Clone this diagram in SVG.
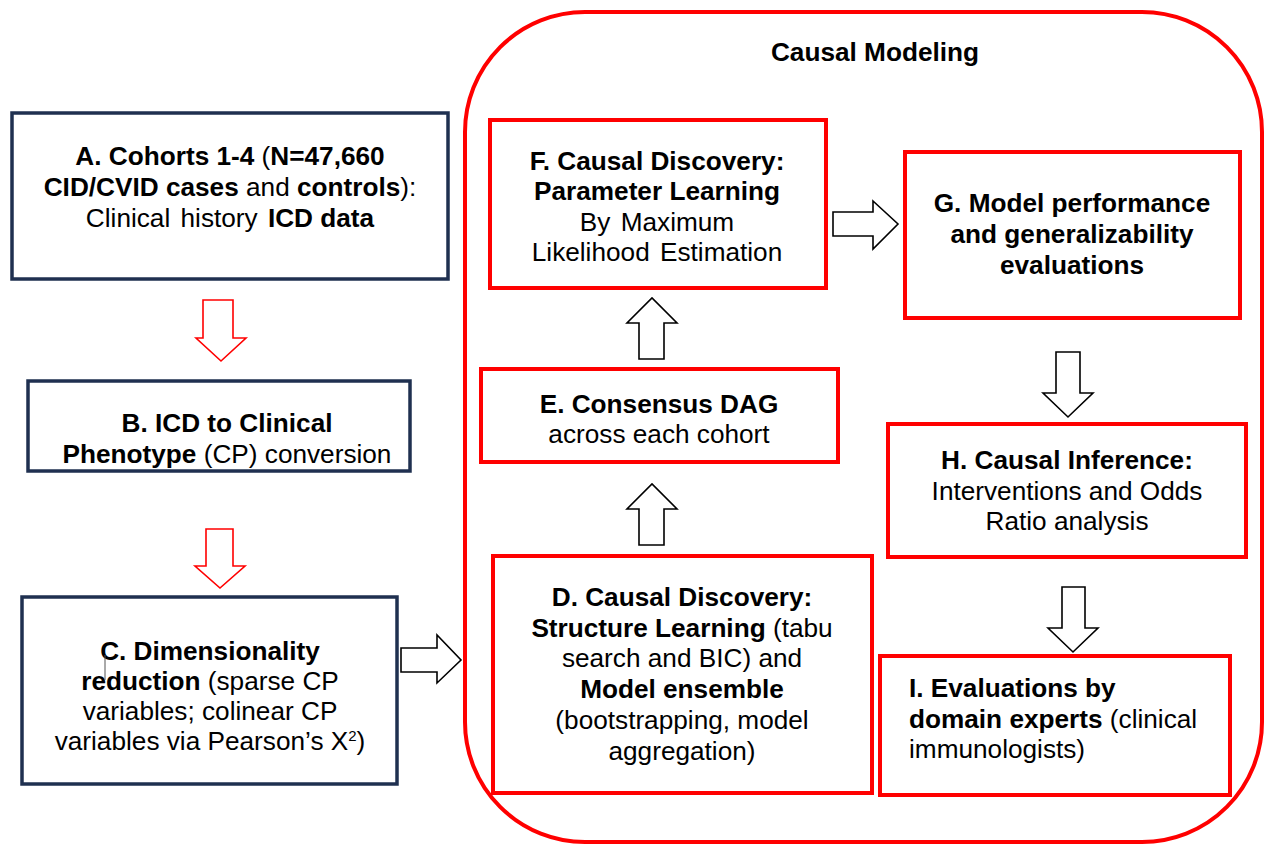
<svg xmlns="http://www.w3.org/2000/svg" width="1266" height="845" viewBox="0 0 1266 845">
<style>
text{font-family:"Liberation Sans",Arial,sans-serif;font-size:26.2px;fill:#000;text-anchor:middle}
.b{font-weight:bold}
.l{text-anchor:start}
.navy{fill:#fff;stroke:#1F3050;stroke-width:3.5}
.red{fill:#fff;stroke:#FF0000;stroke-width:4}
.ha{fill:#fff;stroke:#000;stroke-width:1.6;stroke-linejoin:miter}
.ra{fill:#fff;stroke:#FF0000;stroke-width:1.6}
</style>
<rect width="1266" height="845" fill="#fff"/>
<g id="container">
<rect x="465" y="12" width="797" height="830" rx="120" ry="120" fill="none" stroke="#FF0000" stroke-width="4"/>
<text class="b" x="875" y="61">Causal Modeling</text>
</g>
<g id="nodeA">
<rect class="navy" x="12" y="113" width="436" height="166"/>
<text x="230" y="165"><tspan class="b">A. Cohorts 1-4</tspan> (<tspan class="b">N=47,660</tspan></text>
<text x="230" y="196"><tspan class="b">CID/CVID cases</tspan> and <tspan class="b">controls</tspan>):</text>
<text x="230" y="227" word-spacing="3">Clinical history <tspan class="b" word-spacing="0">ICD data</tspan></text>
</g>
<g id="nodeB">
<rect class="navy" x="28" y="381" width="382" height="90"/>
<text x="227" y="432"><tspan class="b">B. ICD to Clinical</tspan></text>
<text x="227" y="463"><tspan class="b">Phenotype</tspan> (CP) conversion</text>
</g>
<g id="nodeC">
<rect class="navy" x="22" y="597" width="375" height="187"/>
<text x="210" y="660"><tspan class="b">C. Dimensionality</tspan></text>
<text x="210" y="690"><tspan class="b">reduction</tspan> (sparse CP</text>
<text x="210" y="720">variables; colinear CP</text>
<text x="210" y="750">variables via Pearson’s X<tspan font-size="15" dy="-9">2</tspan><tspan dy="9">)</tspan></text>
<path d="M105 655V680" stroke="#555" stroke-width="1" fill="none"/>
</g>
<g id="nodeD">
<rect class="red" x="493" y="556" width="379" height="237"/>
<text x="682" y="606"><tspan class="b">D. Causal Discovery:</tspan></text>
<text x="682" y="637"><tspan class="b">Structure Learning</tspan> (tabu</text>
<text x="682" y="667">search and BIC) and</text>
<text x="682" y="698"><tspan class="b">Model ensemble</tspan></text>
<text x="682" y="729">(bootstrapping, model</text>
<text x="682" y="760">aggregation)</text>
</g>
<g id="nodeE">
<rect class="red" x="481" y="369" width="357" height="93"/>
<text x="659" y="413"><tspan class="b">E. Consensus DAG</tspan></text>
<text x="659" y="443">across each cohort</text>
</g>
<g id="nodeF">
<rect class="red" x="490" y="120" width="336" height="168"/>
<text x="657" y="170"><tspan class="b">F. Causal Discovery:</tspan></text>
<text x="657" y="200"><tspan class="b">Parameter Learning</tspan></text>
<text x="657" y="231" word-spacing="3">By Maximum</text>
<text x="657" y="261" word-spacing="3">Likelihood Estimation</text>
</g>
<g id="nodeG">
<rect class="red" x="905" y="152" width="335" height="166"/>
<text x="1072" y="212"><tspan class="b">G. Model performance</tspan></text>
<text x="1072" y="243"><tspan class="b">and generalizability</tspan></text>
<text x="1072" y="274"><tspan class="b">evaluations</tspan></text>
</g>
<g id="nodeH">
<rect class="red" x="888" y="424" width="358" height="133"/>
<text x="1067" y="469"><tspan class="b">H. Causal Inference:</tspan></text>
<text x="1067" y="500">Interventions and Odds</text>
<text x="1067" y="530">Ratio analysis</text>
</g>
<g id="nodeI">
<rect class="red" x="880" y="656" width="350" height="139"/>
<text class="l" x="909" y="697"><tspan class="b">I. Evaluations by</tspan></text>
<text class="l" x="909" y="728"><tspan class="b">domain experts</tspan> (clinical</text>
<text class="l" x="909" y="758">immunologists)</text>
</g>
<g id="connectors">
<path class="ra" d="M203 300H233V338H246L221 361L196 338H203Z"/>
<path class="ra" d="M206 529H233V566H245L220 588L195 566H206Z"/>
<path class="ha" d="M401 648H437V635L461 660L437 683V672H401Z"/>
<path class="ha" d="M639 359V323H627L652 298L677 323H664V359Z"/>
<path class="ha" d="M639 545V509H627L652 484L677 509H664V545Z"/>
<path class="ha" d="M833 212H873V201L898 224L873 249V236H833Z"/>
<path class="ha" d="M1056 352H1080V393H1093L1068 417L1043 393H1056Z"/>
<path class="ha" d="M1062 587H1085V628H1098L1073 652L1048 628H1062Z"/>
</g>
</svg>
